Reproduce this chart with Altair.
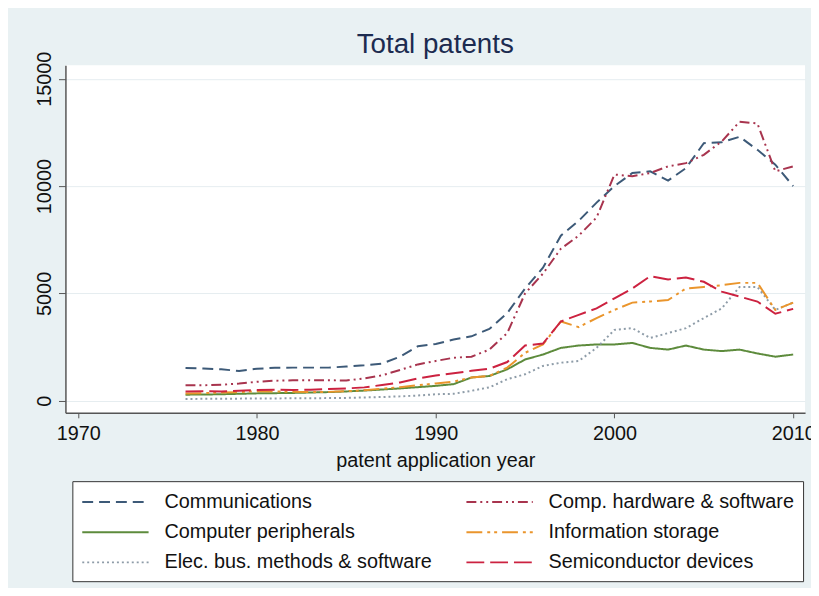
import altair as alt
import pandas as pd

years = list(range(1976, 2011))

communications = [1520, 1500, 1460, 1385, 1490, 1530, 1540, 1540, 1540, 1590,
                  1650, 1730, 2050, 2540, 2640, 2850, 3000, 3340, 4080, 5230,
                  6200, 7690, 8380, 9230, 10000, 10610, 10690, 10260, 10840, 12000,
                  12040, 12300, 11690, 11000, 10000]
comp_hw = [720, 720, 740, 800, 880, 930, 950, 950, 950, 940,
           1040, 1180, 1430, 1690, 1850, 2000, 2050, 2380, 3150, 5000,
           5920, 7080, 7690, 8540, 10540, 10460, 10610, 10920, 11070, 11460,
           12080, 13000, 12920, 10690, 10920]
peripherals = [280, 285, 300, 320, 340, 350, 360, 380, 400, 430,
               470, 520, 570, 630, 690, 770, 1080, 1150, 1460, 1920,
               2150, 2460, 2570, 2620, 2620, 2690, 2460, 2380, 2570, 2380,
               2310, 2380, 2200, 2050, 2150]
info_storage = [330, 350, 380, 400, 440, 430, 410, 400, 410, 440,
                490, 560, 630, 720, 800, 890, 1080, 1150, 1540, 2230,
                2620, 3690, 3430, 3850, 4230, 4570, 4620, 4690, 5230, 5300,
                5380, 5490, 5490, 4230, 4570]
elec_bus = [80, 85, 90, 95, 100, 105, 110, 115, 120, 130,
            150, 170, 200, 240, 300, 320, 460, 620, 1000, 1230,
            1620, 1770, 1850, 2460, 3300, 3380, 2920, 3150, 3380, 3850,
            4300, 5300, 5300, 4230, 4570]
semiconductor = [430, 440, 430, 460, 500, 510, 500, 510, 540, 570,
                 620, 730, 850, 1040, 1170, 1280, 1390, 1490, 1800, 2570,
                 2660, 3690, 4000, 4300, 4770, 5230, 5800, 5650, 5740, 5540,
                 5080, 4850, 4620, 4050, 4280]

# legend order (column-major: left column, then right column)
series_names = ["Communications", "Computer peripherals",
                "Elec. bus. methods & software", "Comp. hardware & software",
                "Information storage", "Semiconductor devices"]
series_values = [communications, peripherals, elec_bus, comp_hw,
                 info_storage, semiconductor]
series_colors = ["#3d5a78", "#5d8b3c", "#8e9ca8", "#a8344e", "#ea952c", "#cc2240"]
series_dashes = [[11, 6], [1, 0], [2, 3], [10, 4, 2, 4, 2, 4],
                 [16, 5, 3, 4, 3, 5], [18, 6]]

x_ticks = [1970, 1980, 1990, 2000, 2010]
y_ticks = [0, 5000, 10000, 15000]

rows = []
for name, vals in zip(series_names, series_values):
    for yr, v in zip(years, vals):
        rows.append({"year": yr, "value": v, "series": name})
df = pd.DataFrame(rows)

FONT = "Liberation Sans"

legend = alt.Legend(
    title=None, orient="none", legendX=7, legendY=420, columns=2,
    symbolType="M-1,0H5.09", symbolSize=484, symbolStrokeWidth=2,
    labelFontSize=20, labelFont=FONT, labelColor="#111111", labelOffset=60,
    labelLimit=400, columnPadding=30, rowPadding=8.5, padding=9,
    fillColor="white", strokeColor="#333333",
)

chart = alt.Chart(df).mark_line(strokeWidth=2, clip=True).encode(
    x=alt.X("year:Q",
            scale=alt.Scale(domain=[1969.28, 2010.665], nice=False, zero=False),
            axis=alt.Axis(values=x_ticks, format="d", title="patent application year",
                          grid=False, tickSize=5, labelPadding=6,
                          labelFontSize=20, titleFontSize=20, titleFontWeight="normal",
                          titlePadding=7, labelFont=FONT, titleFont=FONT,
                          labelColor="#111111", titleColor="#111111",
                          domainColor="#555555", tickColor="#555555",
                          domainWidth=1.5, labelFlush=False)),
    y=alt.Y("value:Q",
            scale=alt.Scale(domain=[-568, 15630], nice=False, zero=False),
            axis=alt.Axis(values=y_ticks, format="d", title=None, grid=True,
                          gridColor="#e6edf0", gridWidth=1, tickSize=7,
                          labelPadding=8, labelAngle=270, labelAlign="center",
                          labelBaseline="alphabetic", labelFontSize=20, labelFont=FONT,
                          labelColor="#111111", domainColor="#555555",
                          tickColor="#555555", domainWidth=1.5, labelFlush=False)),
    color=alt.Color("series:N", scale=alt.Scale(domain=series_names, range=series_colors),
                    legend=legend),
    strokeDash=alt.StrokeDash("series:N",
                              scale=alt.Scale(domain=series_names, range=series_dashes),
                              legend=legend),
).properties(
    width=747, height=351,
    title=alt.TitleParams("Total patents", fontSize=28, font=FONT,
                          fontWeight="normal", color="#1c2b50", anchor="middle",
                          offset=4, dy=12),
    autosize=alt.AutoSizeParams(type="none"),
    padding={"left": 58, "top": 55, "right": 6, "bottom": 174},
    background="#e9f1f3",
).configure_view(fill="white", stroke=None)

chart.save("out.html", embed_options={"renderer": "svg", "actions": False})
